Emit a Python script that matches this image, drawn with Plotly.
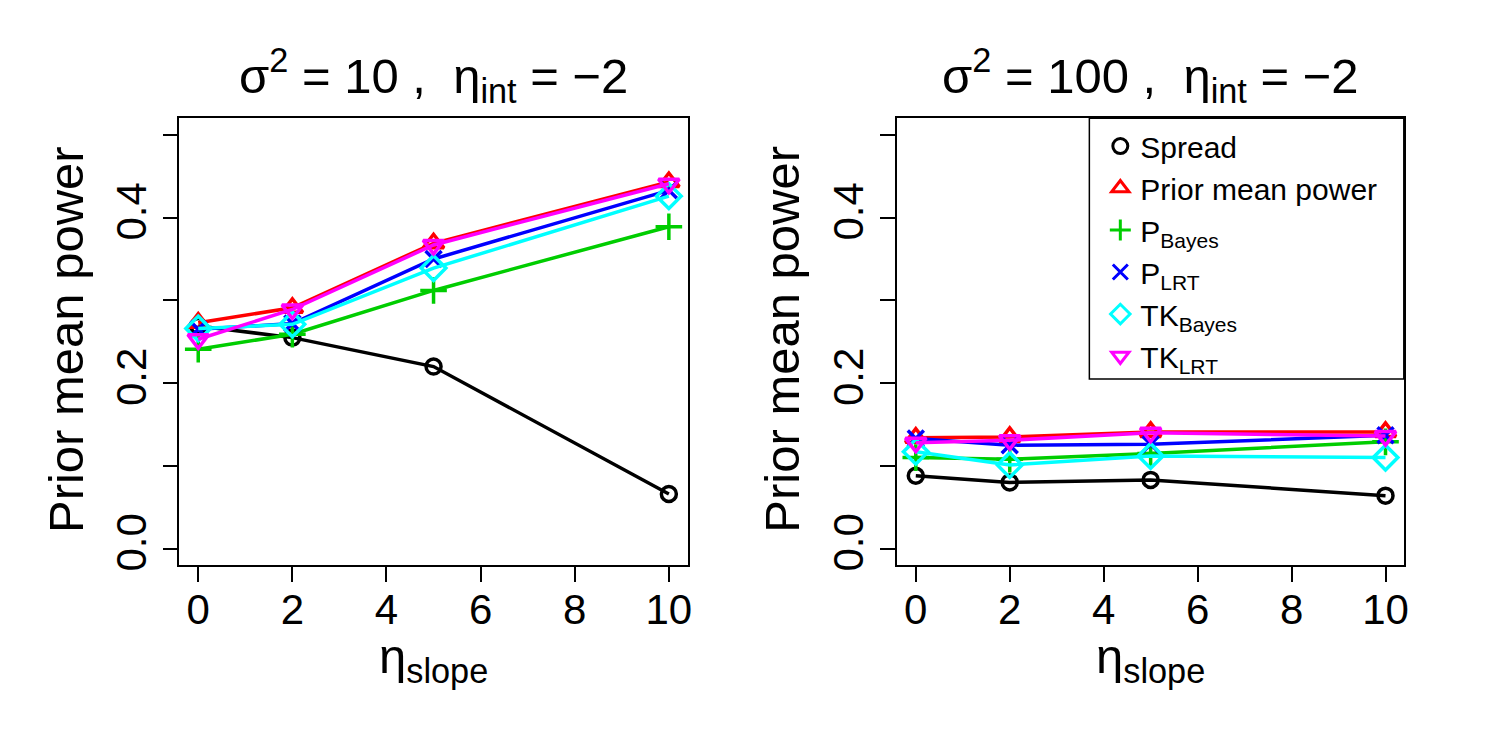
import plotly.graph_objects as go

eta_slope = [0, 2, 5, 10]

series_names = ["Spread", "Prior mean power", "P<sub>Bayes</sub>", "P<sub>LRT</sub>",
                "TK<sub>Bayes</sub>", "TK<sub>LRT</sub>"]

# sigma^2 = 10, eta_int = -2
left_spread = [0.269, 0.255, 0.220, 0.066]
left_prior = [0.273, 0.291, 0.369, 0.443]
left_pbayes = [0.241, 0.259, 0.312, 0.389]
left_plrt = [0.265, 0.272, 0.350, 0.433]
left_tkbayes = [0.266, 0.271, 0.339, 0.426]
left_tklrt = [0.253, 0.289, 0.367, 0.441]

# sigma^2 = 100, eta_int = -2
right_spread = [0.088, 0.080, 0.083, 0.064]
right_prior = [0.134, 0.135, 0.141, 0.141]
right_pbayes = [0.110, 0.108, 0.115, 0.129]
right_plrt = [0.133, 0.125, 0.126, 0.137]
right_tkbayes = [0.117, 0.101, 0.112, 0.110]
right_tklrt = [0.128, 0.131, 0.140, 0.136]

y_tickvals = [0.0, 0.2, 0.4]
y_ticktext = ["0.0", "0.2", "0.4"]
y_minor_tickvals = [0.1, 0.3, 0.5]
x_tickvals = [0, 2, 4, 6, 8, 10]

colors = ["#000000", "#FF0000", "#00CD00", "#0000FF", "#00FFFF", "#FF00FF"]
symbols = ["circle-open", "triangle-up-open", "cross-thin-open", "x-thin-open",
           "diamond-open", "triangle-down-open"]
sizes = [15, 18, 19, 16, 19, 18]

FONT = "Liberation Sans, Arial, Helvetica, sans-serif"

left_data = [left_spread, left_prior, left_pbayes, left_plrt, left_tkbayes, left_tklrt]
right_data = [right_spread, right_prior, right_pbayes, right_plrt, right_tkbayes, right_tklrt]

fig = go.Figure()
for panel, (data, xa, ya) in enumerate([(left_data, "x", "y"), (right_data, "x2", "y2")]):
    for i, vals in enumerate(data):
        fig.add_trace(go.Scatter(
            x=eta_slope, y=vals, xaxis=xa, yaxis=ya, mode="lines+markers",
            line=dict(color=colors[i], width=3.5),
            marker=dict(symbol=symbols[i], size=sizes[i], color=colors[i],
                        line=dict(color=colors[i], width=3.5)),
            showlegend=False, hoverinfo="x+y", name=series_names[i]))

# legend-only entries (points only, as in the original legend)
for i, name in enumerate(series_names):
    fig.add_trace(go.Scatter(
        x=[None], y=[None], xaxis="x2", yaxis="y2", mode="markers", name=name,
        marker=dict(symbol=symbols[i], size=15, color=colors[i],
                    line=dict(color=colors[i], width=3)),
        showlegend=True))

axis_common = dict(showgrid=False, zeroline=False, showline=True, mirror=True,
                   linecolor="black", linewidth=1.5, ticks="outside", ticklen=15,
                   tickwidth=1.5, tickcolor="black",
                   tickfont=dict(family=FONT, size=42, color="black"))
y_minor = dict(tickvals=y_minor_tickvals, ticks="outside", ticklen=15,
               tickwidth=1.5, tickcolor="black", showgrid=False)

ydom = [1 - 569.7 / 750, 1 - 119.3 / 750]
fig.update_layout(
    width=1500, height=750,
    margin=dict(l=0, r=0, t=0, b=0),
    paper_bgcolor="white", plot_bgcolor="white",
    font=dict(family=FONT, color="black"),
    xaxis=dict(domain=[180 / 1500, 690 / 1500], range=[-0.4, 10.4],
               tickvals=x_tickvals, anchor="y", ticklabelstandoff=-8, **axis_common),
    yaxis=dict(domain=ydom, range=[-0.02, 0.52], tickvals=y_tickvals,
               ticktext=y_ticktext, tickangle=-90, anchor="x", minor=y_minor,
               **axis_common),
    xaxis2=dict(domain=[900 / 1500, 1409 / 1500], range=[-0.4, 10.4],
                tickvals=x_tickvals, anchor="y2", ticklabelstandoff=-8, **axis_common),
    yaxis2=dict(domain=ydom, range=[-0.02, 0.52], tickvals=y_tickvals,
                ticktext=y_ticktext, tickangle=-90, anchor="x2", minor=y_minor,
                **axis_common),
    legend=dict(x=1104 / 1500, y=1 - 121 / 750, xanchor="left", yanchor="top",
                borderwidth=0, bgcolor="rgba(0,0,0,0)",
                font=dict(family=FONT, size=30, color="black"),
                tracegroupgap=0),
    shapes=[dict(type="rect", xref="paper", yref="paper",
                 x0=1093 / 1500, x1=1408.5 / 1500, y0=1 - 382 / 750, y1=1 - 119.3 / 750,
                 line=dict(color="black", width=1.5), fillcolor="rgba(0,0,0,0)")],
)

annotations = [
    dict(text="σ<sup>2</sup> = 10 ,  η<sub>int</sub> = −2", x=435 / 1500, y=1 - 76 / 750),
    dict(text="σ<sup>2</sup> = 100 ,  η<sub>int</sub> = −2", x=1154.5 / 1500, y=1 - 76 / 750),
]
for a in annotations:
    fig.add_annotation(xref="paper", yref="paper", x=a["x"], y=a["y"], text=a["text"],
                       showarrow=False, xanchor="center", yanchor="middle",
                       font=dict(family=FONT, size=49, color="black"))

for xc in [66, 785]:
    fig.add_annotation(xref="paper", yref="paper", x=xc / 1500, y=1 - 342 / 750,
                       text="Prior mean power", textangle=-90, showarrow=False,
                       xanchor="center", yanchor="middle",
                       font=dict(family=FONT, size=49, color="black"))

for xc in [435, 1154.5]:
    fig.add_annotation(xref="paper", yref="paper", x=xc / 1500, y=1 - 665 / 750,
                       text="η<sub>slope</sub>", showarrow=False,
                       xanchor="center", yanchor="middle",
                       font=dict(family=FONT, size=49, color="black"))

fig.write_html("out.html")
